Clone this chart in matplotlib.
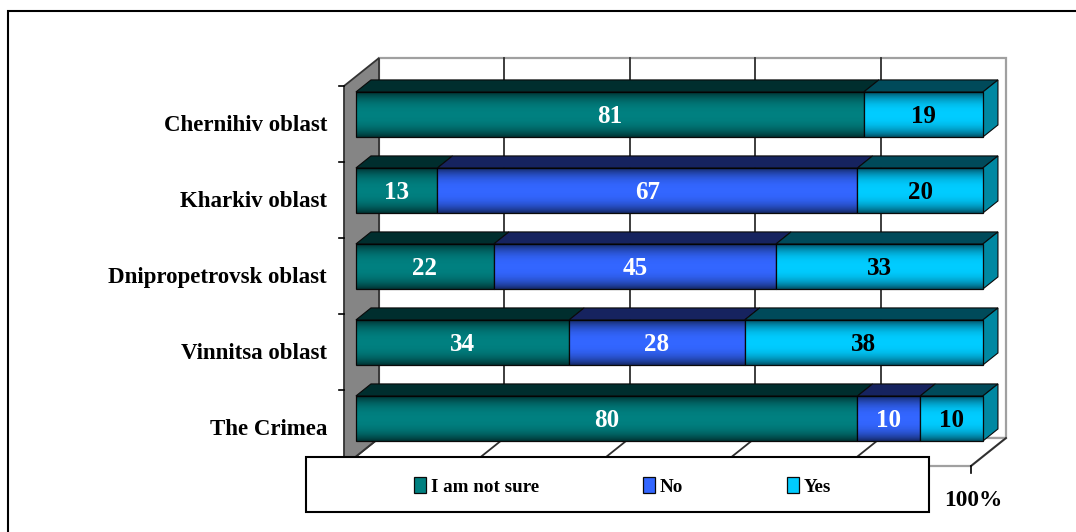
import numpy as np
import matplotlib
matplotlib.use("Agg")
import matplotlib.pyplot as plt
from matplotlib.patches import Polygon, Rectangle

# Survey answers by region (percent), bottom row first
regions = ["The Crimea", "Vinnitsa oblast", "Dnipropetrovsk oblast",
           "Kharkiv oblast", "Chernihiv oblast"]
not_sure = [80, 34, 22, 13, 81]
no = [10, 28, 45, 67, 0]
yes = [10, 38, 33, 20, 19]
series_names = ["I am not sure", "No", "Yes"]
axis_end_label = "100%"

FONT = "Liberation Serif"
W, H = 1076, 532
fig = plt.figure(figsize=(W / 100, H / 100), dpi=100)
ax = fig.add_axes([0, 0, 1, 1])
ax.set_autoscale_on(False)

# front plane of the 3-D box in pixels
X0_PX, X1_PX = 344, 971
FLOOR_PX = 466            # from top of image
ROW_PX = 76
sx = (X1_PX - X0_PX) / 100.0
xlim = (-X0_PX / sx, (W - X0_PX) / sx)
ylim = (-0.5 - (H - FLOOR_PX) / ROW_PX, -0.5 + FLOOR_PX / ROW_PX)
ax.set_xlim(*xlim)
ax.set_ylim(*ylim)
ax.axis("off")

DX = 35 / sx              # depth vector in data units
DY = 28 / ROW_PX
F1, F2 = 0.34, 0.77       # front / back depth of the bars
BAR_H = 45 / ROW_PX
n = len(regions)
ypos = np.arange(n)

# walls and floor
ax.add_patch(Rectangle((DX, -0.5 + DY), 100, n, fc="white", ec="#a0a0a0",
                       lw=1.6, zorder=1))
ax.add_patch(Polygon([(0, -0.5), (100, -0.5), (100 + DX, -0.5 + DY), (DX, -0.5 + DY)],
                     closed=True, fc="white", ec="#a0a0a0", lw=1.6, zorder=1.2))
for v in range(20, 100, 20):
    ax.plot([v + DX, v + DX], [-0.5 + DY, n - 0.5 + DY], color="#2e2e2e",
            lw=1.3, zorder=1.5)
for v in range(0, 101, 20):
    ax.plot([v, v + DX], [-0.5, -0.5 + DY], color="#2e2e2e", lw=1.3, zorder=1.5)
ax.add_patch(Polygon([(0, -0.5), (DX, -0.5 + DY), (DX, n - 0.5 + DY), (0, n - 0.5)],
                     closed=True, fc="#858585", ec="#333333", lw=1.3, zorder=2))
for b in np.arange(-0.5, n, 1.0):
    ax.plot([-5 / sx, 0], [b, b], color="black", lw=1.2, zorder=2.5)

# stacked 3-D bars
series = [
    (not_sure, "#008080", "#002e2e", "white"),
    (no, "#3366ff", "#16235f", "white"),
    (yes, "#00ccff", "#004a5a", "black"),
]
grad_t = np.linspace(0, 1, 80)
shade = np.zeros((80, 1, 4))
shade[:, 0, 3] = 0.6 * np.abs(2 * grad_t - 1) ** 2.5

cum = np.zeros(n)
handles = []
for (vals, face, top, tcol), name in zip(series, series_names):
    vals = np.asarray(vals, dtype=float)
    bars = ax.barh(ypos + F1 * DY, vals, left=cum + F1 * DX, height=BAR_H,
                   color=face, edgecolor="#0a0a0a", lw=0.9, zorder=5, label=name)
    handles.append(bars)
    for i, (v, p) in enumerate(zip(vals, bars.patches)):
        if v <= 0:
            p.set_visible(False)
            continue
        l, r = cum[i], cum[i] + v
        yt = ypos[i] + BAR_H / 2
        ax.add_patch(Polygon([(l + F1 * DX, yt + F1 * DY), (r + F1 * DX, yt + F1 * DY),
                              (r + F2 * DX, yt + F2 * DY), (l + F2 * DX, yt + F2 * DY)],
                             closed=True, fc=top, ec="#0a0a0a", lw=0.8, zorder=4))
        im = ax.imshow(shade, extent=(l + F1 * DX, r + F1 * DX,
                                      ypos[i] - BAR_H / 2 + F1 * DY, yt + F1 * DY),
                       origin="lower", aspect="auto", interpolation="bilinear", zorder=5.5)
        im.set_clip_path(p)
        ax.text((l + r) / 2 + F1 * DX, ypos[i] + F1 * DY - 2 / ROW_PX, f"{int(v)}",
                ha="center", va="center", color=tcol, fontsize=18, fontweight="bold",
                family=FONT, zorder=7)
    cum = cum + vals

# right-hand end faces
for i in range(n):
    yb, yt = ypos[i] - BAR_H / 2, ypos[i] + BAR_H / 2
    ax.add_patch(Polygon([(cum[i] + F1 * DX, yb + F1 * DY), (cum[i] + F1 * DX, yt + F1 * DY),
                          (cum[i] + F2 * DX, yt + F2 * DY), (cum[i] + F2 * DX, yb + F2 * DY)],
                         closed=True, fc="#0088a2", ec="#0a0a0a", lw=0.8, zorder=4))

# category labels
for i, name in enumerate(regions):
    ax.text(-17 / sx, ypos[i] - 1.5 / ROW_PX, name, ha="right", va="center",
            fontsize=16.5, fontweight="bold", family=FONT, zorder=7)

# end of the value axis
ax.plot([100, 100], [-0.5, -0.5 - 7 / ROW_PX], color="black", lw=1.2, zorder=3)
ax.text(100 + 2 / sx, -0.5 - 34 / ROW_PX, axis_end_label, ha="center", va="center",
        fontsize=16.8, fontweight="bold", family=FONT, zorder=7)

ax.set_xlim(*xlim)
ax.set_ylim(*ylim)

# legend box
lx0, ly0, lx1, ly1 = 306, 457, 929, 512
fig.add_artist(Rectangle((lx0 / W, 1 - ly1 / H), (lx1 - lx0) / W, (ly1 - ly0) / H,
                         transform=fig.transFigure, fc="white", ec="black",
                         lw=1.5, zorder=8))
leg = fig.legend(handles, series_names, loc="center",
                 bbox_to_anchor=((lx0 + lx1 + 10) / 2 / W, 1 - (ly0 + ly1 + 4) / 2 / H),
                 ncol=3, frameon=False, columnspacing=5.45, handlelength=0.65,
                 handleheight=0.85, handletextpad=0.25,
                 prop={"family": FONT, "weight": "bold", "size": 13.7})
leg.set_zorder(9)

# outer frame
fig.add_artist(Rectangle((8 / W, -0.05), 1.2, (H - 11) / H + 0.05,
                         transform=fig.transFigure, fill=False, ec="black",
                         lw=1.5, zorder=10))

fig.savefig("out.png", dpi=100)
